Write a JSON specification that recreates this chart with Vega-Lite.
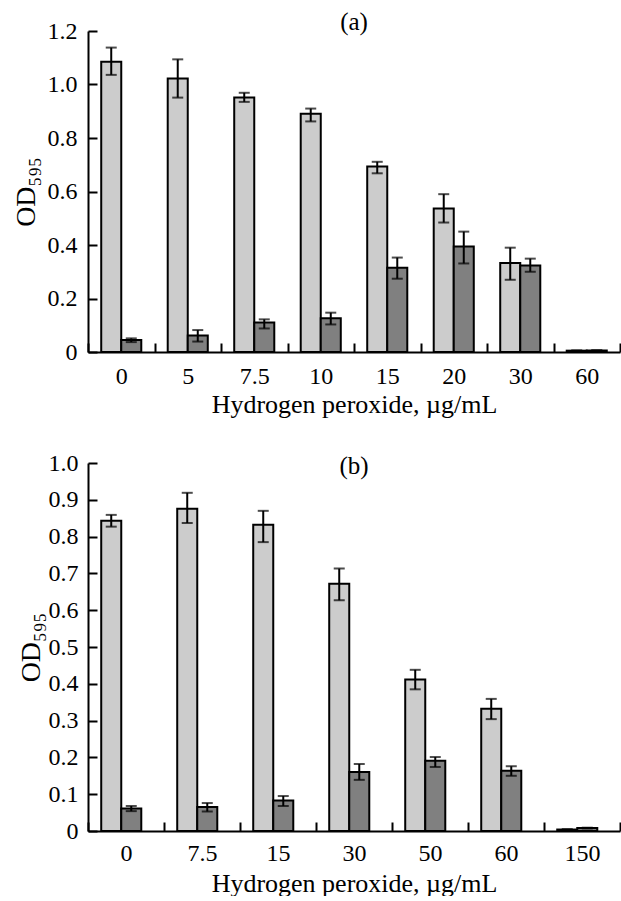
{
  "$schema": "https://vega.github.io/schema/vega-lite/v6.json",
  "padding": {"left": 12, "top": 10, "right": 0, "bottom": 0},
  "background": "white",
  "config": {
    "font": "Liberation Serif",
    "view": {"stroke": null},
    "concat": {"spacing": 34},
    "title": {"font": "Liberation Serif", "fontSize": 25, "fontWeight": "normal", "color": "black"},
    "axis": {
      "grid": false,
      "domainColor": "black",
      "domainWidth": 2,
      "tickColor": "black",
      "tickWidth": 2,
      "labelFont": "Liberation Serif",
      "labelFontSize": 24,
      "labelColor": "black",
      "titleFont": "Liberation Serif",
      "titleFontWeight": "normal",
      "titleColor": "black"
    },
    "axisX": {"tickSize": -9, "tickBand": "extent", "labelAngle": 0, "titleFontSize": 26},
    "axisY": {"tickSize": -9, "titleFontSize": 28}
  },
  "datasets": {
    "a": [
      {"conc": "0", "grp": "A", "od": 1.085, "lo": 1.036, "hi": 1.138},
      {"conc": "0", "grp": "B", "od": 0.045, "lo": 0.037, "hi": 0.051},
      {"conc": "5", "grp": "A", "od": 1.022, "lo": 0.951, "hi": 1.094},
      {"conc": "5", "grp": "B", "od": 0.062, "lo": 0.039, "hi": 0.082},
      {"conc": "7.5", "grp": "A", "od": 0.951, "lo": 0.935, "hi": 0.969},
      {"conc": "7.5", "grp": "B", "od": 0.110, "lo": 0.088, "hi": 0.122},
      {"conc": "10", "grp": "A", "od": 0.891, "lo": 0.862, "hi": 0.910},
      {"conc": "10", "grp": "B", "od": 0.126, "lo": 0.103, "hi": 0.147},
      {"conc": "15", "grp": "A", "od": 0.693, "lo": 0.668, "hi": 0.711},
      {"conc": "15", "grp": "B", "od": 0.315, "lo": 0.274, "hi": 0.353},
      {"conc": "20", "grp": "A", "od": 0.536, "lo": 0.484, "hi": 0.590},
      {"conc": "20", "grp": "B", "od": 0.394, "lo": 0.331, "hi": 0.450},
      {"conc": "30", "grp": "A", "od": 0.333, "lo": 0.270, "hi": 0.390},
      {"conc": "30", "grp": "B", "od": 0.323, "lo": 0.300, "hi": 0.349},
      {"conc": "60", "grp": "A", "od": 0.005, "lo": 0.004, "hi": 0.006},
      {"conc": "60", "grp": "B", "od": 0.006, "lo": 0.005, "hi": 0.007}
    ],
    "b": [
      {"conc": "0", "grp": "A", "od": 0.843, "lo": 0.827, "hi": 0.859},
      {"conc": "0", "grp": "B", "od": 0.061, "lo": 0.054, "hi": 0.068},
      {"conc": "7.5", "grp": "A", "od": 0.876, "lo": 0.837, "hi": 0.919},
      {"conc": "7.5", "grp": "B", "od": 0.065, "lo": 0.053, "hi": 0.076},
      {"conc": "15", "grp": "A", "od": 0.832, "lo": 0.785, "hi": 0.870},
      {"conc": "15", "grp": "B", "od": 0.083, "lo": 0.068, "hi": 0.095},
      {"conc": "30", "grp": "A", "od": 0.672, "lo": 0.627, "hi": 0.713},
      {"conc": "30", "grp": "B", "od": 0.160, "lo": 0.139, "hi": 0.182},
      {"conc": "50", "grp": "A", "od": 0.412, "lo": 0.385, "hi": 0.438},
      {"conc": "50", "grp": "B", "od": 0.191, "lo": 0.174, "hi": 0.201},
      {"conc": "60", "grp": "A", "od": 0.332, "lo": 0.304, "hi": 0.359},
      {"conc": "60", "grp": "B", "od": 0.164, "lo": 0.150, "hi": 0.176},
      {"conc": "150", "grp": "A", "od": 0.004, "lo": 0.003, "hi": 0.005},
      {"conc": "150", "grp": "B", "od": 0.008, "lo": 0.007, "hi": 0.009}
    ]
  },
  "vconcat": [
    {
      "width": 532,
      "height": 321,
      "title": {"text": "(a)", "offset": -16},
      "data": {"name": "a"},
      "encoding": {
        "x": {"field": "conc", "type": "nominal", "sort": null, "scale": {"paddingInner": 0, "paddingOuter": 0}, "axis": {"title": "Hydrogen peroxide, µg/mL", "labelPadding": 21, "titlePadding": 3}},
        "xOffset": {"field": "grp", "type": "nominal", "scale": {"paddingInner": 0, "paddingOuter": 0.66}}
      },
      "layer": [
        {
          "mark": {"type": "bar", "stroke": "black", "strokeWidth": 2},
          "encoding": {
            "y": {"field": "od", "type": "quantitative", "scale": {"domain": [0, 1.2]}, "axis": {"title": "OD₅₉₅", "values": [0, 0.2, 0.4, 0.6, 0.8, 1.0, 1.2], "labelExpr": "datum.value == 0 ? '0' : format(datum.value, '.1f')", "labelPadding": 20, "titlePadding": 7}},
            "fill": {"field": "grp", "type": "nominal", "scale": {"domain": ["A", "B"], "range": ["#cccccc", "#808080"]}, "legend": null}
          }
        },
        {
          "mark": {"type": "rule", "strokeWidth": 2, "color": "black"},
          "encoding": {"y": {"field": "lo", "type": "quantitative", "scale": {"domain": [0, 1.2]}, "axis": {"title": "OD₅₉₅", "values": [0, 0.2, 0.4, 0.6, 0.8, 1.0, 1.2], "labelExpr": "datum.value == 0 ? '0' : format(datum.value, '.1f')", "labelPadding": 20, "titlePadding": 7}}, "y2": {"field": "hi"}}
        },
        {
          "mark": {"type": "tick", "orient": "horizontal", "size": 11, "thickness": 2, "color": "black"},
          "encoding": {"y": {"field": "lo", "type": "quantitative", "scale": {"domain": [0, 1.2]}, "axis": {"title": "OD₅₉₅", "values": [0, 0.2, 0.4, 0.6, 0.8, 1.0, 1.2], "labelExpr": "datum.value == 0 ? '0' : format(datum.value, '.1f')", "labelPadding": 20, "titlePadding": 7}}}
        },
        {
          "mark": {"type": "tick", "orient": "horizontal", "size": 11, "thickness": 2, "color": "black"},
          "encoding": {"y": {"field": "hi", "type": "quantitative", "scale": {"domain": [0, 1.2]}, "axis": {"title": "OD₅₉₅", "values": [0, 0.2, 0.4, 0.6, 0.8, 1.0, 1.2], "labelExpr": "datum.value == 0 ? '0' : format(datum.value, '.1f')", "labelPadding": 20, "titlePadding": 7}}}
        }
      ]
    },
    {
      "width": 532,
      "height": 368,
      "title": {"text": "(b)", "offset": -28},
      "data": {"name": "b"},
      "encoding": {
        "x": {"field": "conc", "type": "nominal", "sort": null, "scale": {"paddingInner": 0, "paddingOuter": 0}, "axis": {"title": "Hydrogen peroxide, µg/mL", "labelPadding": 19, "titlePadding": 5}},
        "xOffset": {"field": "grp", "type": "nominal", "scale": {"paddingInner": 0, "paddingOuter": 0.9}}
      },
      "layer": [
        {
          "mark": {"type": "bar", "stroke": "black", "strokeWidth": 2},
          "encoding": {
            "y": {"field": "od", "type": "quantitative", "scale": {"domain": [0, 1.0]}, "axis": {"title": "OD₅₉₅", "values": [0, 0.1, 0.2, 0.3, 0.4, 0.5, 0.6, 0.7, 0.8, 0.9, 1.0], "labelExpr": "datum.value == 0 ? '0' : format(datum.value, '.1f')", "labelPadding": 19, "titlePadding": 3}},
            "fill": {"field": "grp", "type": "nominal", "scale": {"domain": ["A", "B"], "range": ["#cccccc", "#808080"]}, "legend": null}
          }
        },
        {
          "mark": {"type": "rule", "strokeWidth": 2, "color": "black"},
          "encoding": {"y": {"field": "lo", "type": "quantitative", "scale": {"domain": [0, 1.0]}, "axis": {"title": "OD₅₉₅", "values": [0, 0.1, 0.2, 0.3, 0.4, 0.5, 0.6, 0.7, 0.8, 0.9, 1.0], "labelExpr": "datum.value == 0 ? '0' : format(datum.value, '.1f')", "labelPadding": 19, "titlePadding": 3}}, "y2": {"field": "hi"}}
        },
        {
          "mark": {"type": "tick", "orient": "horizontal", "size": 11, "thickness": 2, "color": "black"},
          "encoding": {"y": {"field": "lo", "type": "quantitative", "scale": {"domain": [0, 1.0]}, "axis": {"title": "OD₅₉₅", "values": [0, 0.1, 0.2, 0.3, 0.4, 0.5, 0.6, 0.7, 0.8, 0.9, 1.0], "labelExpr": "datum.value == 0 ? '0' : format(datum.value, '.1f')", "labelPadding": 19, "titlePadding": 3}}}
        },
        {
          "mark": {"type": "tick", "orient": "horizontal", "size": 11, "thickness": 2, "color": "black"},
          "encoding": {"y": {"field": "hi", "type": "quantitative", "scale": {"domain": [0, 1.0]}, "axis": {"title": "OD₅₉₅", "values": [0, 0.1, 0.2, 0.3, 0.4, 0.5, 0.6, 0.7, 0.8, 0.9, 1.0], "labelExpr": "datum.value == 0 ? '0' : format(datum.value, '.1f')", "labelPadding": 19, "titlePadding": 3}}}
        }
      ]
    }
  ]
}
